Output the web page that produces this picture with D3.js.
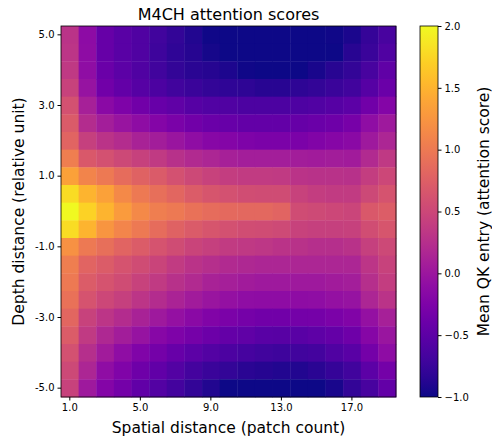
<!DOCTYPE html>
<html>
<head>
<meta charset="utf-8">
<script src="https://cdn.jsdelivr.net/npm/d3@7"></script>
<style>
  body { margin: 0; background: #fff; }
  text { font-family: "DejaVu Sans", sans-serif; fill: #000; }
</style>
</head>
<body>
<script>
// spatial distance (columns) and depth distance (rows, top to bottom)
var xs = [1,2,3,4,5,6,7,8,9,10,11,12,13,14,15,16,17,18,19];
var ys = [5,4.5,4,3.5,3,2.5,2,1.5,1,0.5,0,-0.5,-1,-1.5,-2,-2.5,-3,-3.5,-4,-4.5,-5];
var xTicks = [1,5,9,13,17];
var yTicks = [5,3,1,-1,-3,-5];
var cbTicks = [-1,-0.5,0,0.5,1,1.5,2];

// mean QK entry, one row per depth distance
var row_5_0  = [0.30,-0.13,-0.43,-0.52,-0.60,-0.70,-0.80,-0.90,-0.98,-1.00,-1.00,-1.00,-1.00,-1.00,-1.00,-0.98,-0.93,-0.78,-0.65];
var row_4_5  = [0.32,-0.12,-0.43,-0.52,-0.60,-0.72,-0.82,-0.88,-0.96,-1.00,-1.00,-1.00,-1.00,-1.00,-1.00,-0.99,-0.87,-0.75,-0.60];
var row_4_0  = [0.35,-0.10,-0.40,-0.50,-0.60,-0.70,-0.80,-0.85,-0.88,-0.92,-0.98,-1.00,-1.00,-1.00,-0.95,-0.86,-0.80,-0.65,-0.48];
var row_3_5  = [0.45,-0.05,-0.35,-0.45,-0.55,-0.62,-0.70,-0.75,-0.80,-0.82,-0.83,-0.86,-0.86,-0.83,-0.80,-0.75,-0.70,-0.55,-0.40];
var row_3_0  = [0.60,0.10,-0.15,-0.25,-0.35,-0.42,-0.48,-0.55,-0.58,-0.60,-0.62,-0.62,-0.62,-0.61,-0.58,-0.55,-0.50,-0.35,-0.20];
var row_2_5  = [0.70,0.22,0.07,-0.03,-0.12,-0.20,-0.28,-0.35,-0.40,-0.42,-0.45,-0.45,-0.45,-0.43,-0.40,-0.37,-0.30,-0.10,0.03];
var row_2_0  = [0.80,0.42,0.30,0.23,0.12,0.06,-0.02,-0.10,-0.17,-0.20,-0.25,-0.27,-0.27,-0.27,-0.22,-0.18,-0.15,0.02,0.15];
var row_1_5  = [1.05,0.68,0.60,0.52,0.43,0.36,0.27,0.20,0.15,0.10,0.07,0.07,0.07,0.06,0.05,0.06,0.05,0.20,0.35];
var row_1_0  = [1.35,1.10,1.00,0.88,0.78,0.70,0.60,0.52,0.45,0.40,0.38,0.38,0.37,0.30,0.28,0.28,0.27,0.40,0.50];
var row_0_5  = [1.80,1.50,1.35,1.15,1.00,0.90,0.82,0.72,0.65,0.60,0.57,0.55,0.55,0.45,0.40,0.38,0.38,0.52,0.62];
var row_0_0  = [2.00,1.72,1.50,1.30,1.15,1.05,1.00,0.93,0.88,0.85,0.83,0.83,0.80,0.55,0.53,0.50,0.48,0.68,0.73];
var row_m0_5 = [1.80,1.50,1.25,1.12,1.00,0.88,0.78,0.70,0.65,0.60,0.57,0.55,0.53,0.45,0.42,0.42,0.43,0.57,0.65];
var row_m1_0 = [1.22,1.00,0.90,0.80,0.72,0.62,0.55,0.47,0.42,0.38,0.35,0.33,0.30,0.28,0.25,0.25,0.28,0.42,0.52];
var row_m1_5 = [1.05,0.80,0.72,0.62,0.55,0.47,0.38,0.30,0.25,0.20,0.18,0.16,0.16,0.15,0.15,0.15,0.16,0.32,0.45];
var row_m2_0 = [1.00,0.72,0.62,0.55,0.45,0.36,0.27,0.20,0.12,0.08,0.05,0.03,0.03,0.03,0.03,0.05,0.07,0.25,0.40];
var row_m2_5 = [0.93,0.62,0.50,0.42,0.32,0.22,0.13,0.05,-0.02,-0.07,-0.10,-0.12,-0.12,-0.12,-0.10,-0.07,-0.05,0.15,0.30];
var row_m3_0 = [0.82,0.45,0.32,0.22,0.12,0.02,-0.07,-0.15,-0.22,-0.27,-0.32,-0.35,-0.35,-0.33,-0.31,-0.27,-0.22,-0.07,0.10];
var row_m3_5 = [0.72,0.36,0.18,0.06,-0.05,-0.17,-0.25,-0.32,-0.38,-0.44,-0.48,-0.52,-0.54,-0.53,-0.49,-0.44,-0.37,-0.19,-0.02];
var row_m4_0 = [0.60,0.25,0.05,-0.10,-0.23,-0.33,-0.42,-0.50,-0.57,-0.62,-0.67,-0.70,-0.72,-0.70,-0.68,-0.60,-0.52,-0.33,-0.12];
var row_m4_5 = [0.52,0.15,-0.10,-0.23,-0.37,-0.47,-0.57,-0.68,-0.75,-0.80,-0.85,-0.88,-0.90,-0.90,-0.85,-0.78,-0.70,-0.50,-0.33];
var row_m5_0 = [0.45,0.03,-0.20,-0.33,-0.47,-0.57,-0.68,-0.80,-0.90,-1.00,-1.00,-1.00,-1.00,-1.00,-1.00,-0.95,-0.80,-0.65,-0.45];

var rows = [row_5_0,row_4_5,row_4_0,row_3_5,row_3_0,row_2_5,row_2_0,row_1_5,row_1_0,row_0_5,row_0_0,
            row_m0_5,row_m1_0,row_m1_5,row_m2_0,row_m2_5,row_m3_0,row_m3_5,row_m4_0,row_m4_5,row_m5_0];

// flatten into cells
var cells = [];
for (var i = 0; i < ys.length; i++) {
  for (var j = 0; j < xs.length; j++) {
    cells.push({"x": xs[j], "y": ys[i], "value": rows[i][j]});
  }
}

var W = 492, H = 437;
var plot = {left: 61, right: 396, top: 26, bottom: 397};
var cb = {left: 420, right: 438};

var svg = d3.select("body").append("svg")
    .attr("width", W)
    .attr("height", H);

var x = d3.scaleBand().domain(xs).range([plot.left, plot.right]);
var y = d3.scaleBand().domain(ys).range([plot.top, plot.bottom]);
var color = d3.scaleSequential(d3.interpolatePlasma).domain([-1, 2]);

// heatmap cells
svg.append("g").selectAll("rect")
    .data(cells)
    .enter().append("rect")
    .attr("x", function(d) { return x(d.x); })
    .attr("y", function(d) { return y(d.y); })
    .attr("width", x.bandwidth() + 0.4)
    .attr("height", y.bandwidth() + 0.4)
    .attr("fill", function(d) { return color(Math.max(-1, Math.min(2, d.value))); });

// frame
svg.append("rect")
    .attr("x", plot.left).attr("y", plot.top)
    .attr("width", plot.right - plot.left)
    .attr("height", plot.bottom - plot.top)
    .style("fill", "none").style("stroke", "#000").style("stroke-width", 0.8);

// x axis
var xAxis = svg.append("g")
    .attr("transform", "translate(0," + plot.bottom + ")")
    .call(d3.axisBottom(x).tickValues(xTicks).tickSize(3.5).tickPadding(3)
      .tickFormat(function(d) { return d.toFixed(1); }));
xAxis.select(".domain").remove();
xAxis.selectAll("text").style("font-size", "10px").style("fill", "#000");

// y axis
var yAxis = svg.append("g")
    .attr("transform", "translate(" + plot.left + ",0)")
    .call(d3.axisLeft(y).tickValues(yTicks).tickSize(3.5).tickPadding(3)
      .tickFormat(function(d) { return d.toFixed(1); }));
yAxis.select(".domain").remove();
yAxis.selectAll("text").style("font-size", "10px").style("fill", "#000");

// title and labels
svg.append("text")
    .attr("x", (plot.left + plot.right) / 2)
    .attr("y", 20)
    .attr("text-anchor", "middle")
    .style("font-size", "16px")
    .text("M4CH attention scores");

svg.append("text")
    .attr("x", (plot.left + plot.right) / 2)
    .attr("y", 433)
    .attr("text-anchor", "middle")
    .style("font-size", "15.5px")
    .text("Spatial distance (patch count)");

svg.append("text")
    .attr("transform", "translate(24," + ((plot.top + plot.bottom) / 2) + ") rotate(-90)")
    .attr("text-anchor", "middle")
    .style("font-size", "15.5px")
    .text("Depth distance (relative unit)");

// colorbar
var defs = svg.append("defs");
var grad = defs.append("linearGradient")
    .attr("id", "plasma")
    .attr("x1", "0%").attr("y1", "100%")
    .attr("x2", "0%").attr("y2", "0%");
d3.range(0, 1.0001, 0.05).forEach(function(t) {
  grad.append("stop")
      .attr("offset", (t * 100) + "%")
      .attr("stop-color", d3.interpolatePlasma(t));
});

svg.append("rect")
    .attr("x", cb.left).attr("y", plot.top)
    .attr("width", cb.right - cb.left)
    .attr("height", plot.bottom - plot.top)
    .style("fill", "url(#plasma)")
    .style("stroke", "#000").style("stroke-width", 0.8);

var cbScale = d3.scaleLinear().domain([-1, 2]).range([plot.bottom, plot.top]);
var cbAxis = svg.append("g")
    .attr("transform", "translate(" + cb.right + ",0)")
    .call(d3.axisRight(cbScale).tickValues(cbTicks).tickSize(3.5).tickPadding(3)
      .tickFormat(function(d) { return (d < 0 ? "\u2212" : "") + Math.abs(d).toFixed(1); }));
cbAxis.select(".domain").remove();
cbAxis.selectAll("text").style("font-size", "10px").style("fill", "#000");

svg.append("text")
    .attr("transform", "translate(489," + ((plot.top + plot.bottom) / 2) + ") rotate(-90)")
    .attr("text-anchor", "middle")
    .style("font-size", "15.5px")
    .text("Mean QK entry (attention score)");
</script>
</body>
</html>
